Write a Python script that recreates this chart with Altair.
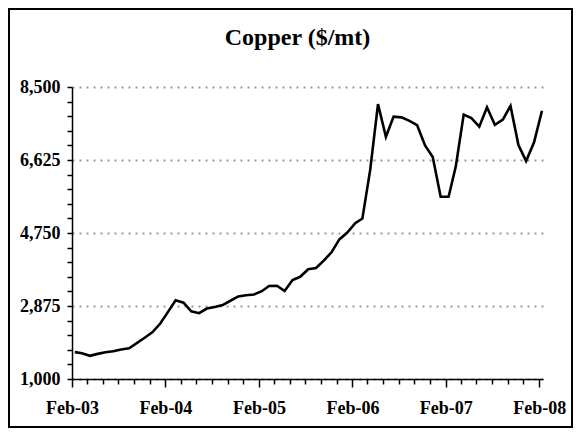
import altair as alt
import pandas as pd

# Monthly copper prices ($/mt), Feb-2003 .. Feb-2008
months = pd.date_range("2003-02-01", periods=61, freq="MS") + pd.Timedelta(days=11)
prices = [
    1690, 1660, 1595, 1645, 1686, 1712, 1760, 1790, 1920, 2060, 2200,
    2425, 2730, 3020, 2960, 2740, 2690, 2810, 2850, 2900, 3010, 3120, 3150,
    3170, 3255, 3390, 3395, 3260, 3540, 3625, 3820, 3850, 4040, 4260, 4585,
    4760, 5000, 5120, 6390, 8060, 7220, 7740, 7720, 7630, 7520, 7000, 6700,
    5680, 5680, 6455, 7790, 7700, 7480, 7980, 7530, 7660, 8015, 7010, 6600,
    7080, 7890,
]
dates = [d.strftime("%Y-%m-%d") for d in months]

title_text = ["Copper ($/mt)"]
y_ticks = list(range(1000, 8501, 375))
x_ticks = [f"{2003 + (1 + 2 * i) // 12}-{((1 + 2 * i) % 12) + 1:02d}-01" for i in range(31)]

df = pd.DataFrame({"date": dates, "price": prices})

W, H = 471, 292
PAD = {"left": 64, "top": 79, "right": 30, "bottom": 49}
FONT = "Liberation Serif"

x_vals = [alt.DateTime(year=int(s[:4]), month=int(s[5:7]), date=1, utc=True) for s in x_ticks]

line = alt.Chart(df).mark_line(color="black", strokeWidth=2.6).encode(
    x=alt.X(
        "date:T",
        scale=alt.Scale(type="utc", domain=[
            alt.DateTime(year=2003, month=2, date=1, utc=True),
            alt.DateTime(year=2008, month=2, date=16, utc=True),
        ]),
        axis=alt.Axis(
            title=None,
            values=x_vals,
            labelExpr="utcFormat(datum.value, '%m') == '02' ? utcFormat(datum.value, '%b-%y') : ''",
            tickSize={"condition": {"test": "utcFormat(datum.value, '%m') == '02'", "value": 8}, "value": 5},
            tickColor="black",
            tickWidth=1.5,
            domainColor="black",
            domainWidth=1.5,
            grid=False,
            labelFont=FONT,
            labelFontSize=18,
            labelFontWeight="bold",
            labelColor="black",
            labelPadding=12,
            labelFlush=False,
            labelOverlap=False,
        ),
    ),
    y=alt.Y(
        "price:Q",
        scale=alt.Scale(domain=[1000, 8500], nice=False, zero=False),
        axis=alt.Axis(
            title=None,
            values=y_ticks,
            labelExpr="(datum.value - 1000) % 1875 == 0 ? format(datum.value, ',') : ''",
            tickSize=5,
            tickColor="black",
            tickWidth=1.5,
            domainColor="black",
            domainWidth=1.5,
            grid=True,
            gridColor={"condition": {"test": "(datum.value - 1000) % 1875 == 0", "value": "#9a9a9a"}, "value": "transparent"},
            gridDash=[2, 5],
            gridWidth=2,
            labelFont=FONT,
            labelFontSize=18,
            labelFontWeight="bold",
            labelColor="black",
            labelPadding=7,
            labelOverlap=False,
        ),
    ),
)

frame = alt.Chart(pd.DataFrame({"k": [0]})).mark_rect(
    filled=False, stroke="black", strokeWidth=2
).encode(
    x=alt.value(-PAD["left"] + 1),
    x2=alt.value(W + PAD["right"] - 1),
    y=alt.value(-PAD["top"] + 1),
    y2=alt.value(H + PAD["bottom"] - 1),
)

title = alt.Chart(pd.DataFrame({"t": title_text})).mark_text(
    font=FONT, fontSize=24, fontWeight="bold", color="black",
    align="center", baseline="alphabetic",
).encode(
    text="t:N",
    x=alt.value(W / 2 - 10),
    y=alt.value(-42),
)

chart = alt.layer(frame, line, title).properties(
    width=W,
    height=H,
    padding=PAD,
    autosize=alt.AutoSizeParams(type="none"),
    background="white",
).configure_view(stroke=None)

chart.save("out.html", embed_options={"renderer": "svg", "actions": False})
